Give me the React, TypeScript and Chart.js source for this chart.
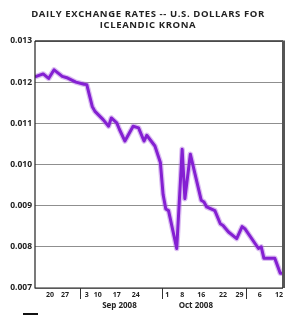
import React, { useEffect, useRef } from "react";
import { Chart, registerables } from "chart.js";

Chart.register(...registerables);

// Days counted from Aug 15, 2008
const dayNumbers = [0, 3, 5, 7, 10, 12, 15, 18, 19, 21, 22, 25, 27, 28, 30, 31, 33, 36, 38, 40, 41, 44, 46, 47, 48, 49, 52, 54, 55, 57, 60, 61, 62, 63, 66, 68, 69, 71, 74, 76, 77, 82, 83, 84, 88, 90, 91];
const rates = [0.01213, 0.0122, 0.01209, 0.0123, 0.01214, 0.0121, 0.012, 0.01195, 0.01194, 0.01141, 0.01129, 0.01109, 0.01093, 0.01113, 0.01101, 0.01085, 0.01057, 0.01093, 0.01089, 0.01057, 0.01071, 0.01045, 0.01005, 0.00927, 0.00892, 0.00888, 0.00796, 0.01037, 0.00917, 0.01025, 0.00941, 0.00913, 0.00909, 0.00897, 0.00888, 0.00856, 0.00852, 0.00836, 0.0082, 0.00849, 0.00844, 0.00796, 0.008, 0.00772, 0.00772, 0.00736, 0.00736];

const yTicks = [0.007, 0.008, 0.009, 0.01, 0.011, 0.012, 0.013];
const yTickLabels = ["0.007", "0.008", "0.009", "0.010", "0.011", "0.012", "0.013"];

const xTickDays = [5.5, 11, 19, 23, 30, 37, 48.5, 54, 61, 69, 75, 82.5, 89.5];
const xTickLabels = ["20", "27", "3", "10", "17", "24", "1", "8", "16", "22", "29", "6", "12"];

const monthBoundaryDays = [16.5, 46.5, 77.5];
const monthLabelDays = [31, 59];
const monthLabels = ["Sep 2008", "Oct 2008"];

const titleLines = ["DAILY EXCHANGE RATES -- U.S. DOLLARS FOR", "ICLEANDIC KRONA"];

const decorPlugin = {
  id: "decor",
  afterDraw(chart: any) {
    const ctx = chart.ctx;
    const xs = chart.scales.x;
    const ys = chart.scales.y;
    const area = chart.chartArea;
    ctx.save();
    // title
    ctx.fillStyle = "#222";
    ctx.font = 'bold 9.5px "Open Sans"';
    ctx.textAlign = "center";
    ctx.textBaseline = "middle";
    try { (ctx as any).letterSpacing = "0.6px"; } catch (e) {}
    ctx.fillText(titleLines[0], 148, 14);
    ctx.fillText(titleLines[1], 148, 25);
    try { (ctx as any).letterSpacing = "0px"; } catch (e) {}
    // borders
    ctx.strokeStyle = "#333";
    ctx.lineWidth = 1.5;
    ctx.beginPath();
    ctx.moveTo(area.left, area.top);
    ctx.lineTo(area.right, area.top);
    ctx.stroke();
    ctx.strokeStyle = "#555";
    ctx.lineWidth = 3;
    ctx.beginPath();
    ctx.moveTo(area.right + 0.5, area.top - 0.5);
    ctx.lineTo(area.right + 0.5, area.bottom);
    ctx.stroke();
    ctx.strokeStyle = "#222";
    ctx.lineWidth = 1.2;
    ctx.beginPath();
    ctx.moveTo(area.left, area.top);
    ctx.lineTo(area.left, area.bottom);
    ctx.lineTo(area.right, area.bottom);
    ctx.stroke();
    // y labels
    ctx.fillStyle = "#222";
    ctx.font = 'bold 8.5px "Open Sans"';
    ctx.textAlign = "right";
    yTicks.forEach((v, i) => {
      ctx.fillText(yTickLabels[i], area.left - 3, ys.getPixelForValue(v));
    });
    // x labels
    ctx.font = 'bold 7px "Open Sans"';
    ctx.textAlign = "center";
    xTickDays.forEach((d, i) => {
      ctx.fillText(xTickLabels[i], xs.getPixelForValue(d), area.bottom + 7);
    });
    // month separators
    ctx.strokeStyle = "#333";
    ctx.lineWidth = 1;
    monthBoundaryDays.forEach((d) => {
      const px = Math.round(xs.getPixelForValue(d)) + 0.5;
      ctx.beginPath();
      ctx.moveTo(px, area.bottom);
      ctx.lineTo(px, area.bottom + 11);
      ctx.stroke();
    });
    ctx.font = 'bold 8px "Open Sans"';
    monthLabelDays.forEach((d, i) => {
      ctx.fillText(monthLabels[i], xs.getPixelForValue(d), area.bottom + 18);
    });
    // cut-off legend box
    ctx.fillStyle = "#111";
    ctx.fillRect(23, 313, 15, 2);
    ctx.restore();
  },
};

export default function App() {
  const ref = useRef<HTMLCanvasElement>(null);
  useEffect(() => {
    const points = dayNumbers.map((d, i) => ({ x: d, y: rates[i] }));
    const chart = new Chart(ref.current as HTMLCanvasElement, {
      type: "line",
      data: {
        datasets: [
          {
            data: points,
            borderColor: "#8420d2",
            borderWidth: 3,
            pointRadius: 0,
            tension: 0,
            borderJoinStyle: "round",
          },
          {
            data: points,
            borderColor: "rgba(175,110,225,0.45)",
            borderWidth: 5.5,
            pointRadius: 0,
            tension: 0,
            borderJoinStyle: "round",
          },
        ],
      },
      options: {
        animation: false,
        responsive: false,
        layout: { padding: { left: 35, right: 4, top: 41, bottom: 27 } },
        plugins: { legend: { display: false }, tooltip: { enabled: false }, title: { display: false } },
        scales: {
          x: {
            type: "linear",
            min: 0,
            max: 91,
            ticks: { display: false },
            grid: { display: false, drawTicks: false },
            border: { display: false },
          },
          y: {
            min: 0.007,
            max: 0.013,
            afterBuildTicks: (scale: any) => {
              scale.ticks = yTicks.map((v) => ({ value: v }));
            },
            ticks: { display: false },
            grid: { color: "#8f8f8f", lineWidth: 1, drawTicks: false },
            border: { display: false },
          },
        },
      },
      plugins: [decorPlugin],
    } as any);
    return () => chart.destroy();
  }, []);
  return (
    <div style={{ position: "fixed", left: 0, top: 0, width: 287, height: 315, background: "#fff" }}>
      <canvas ref={ref} width={287} height={315} />
    </div>
  );
}
